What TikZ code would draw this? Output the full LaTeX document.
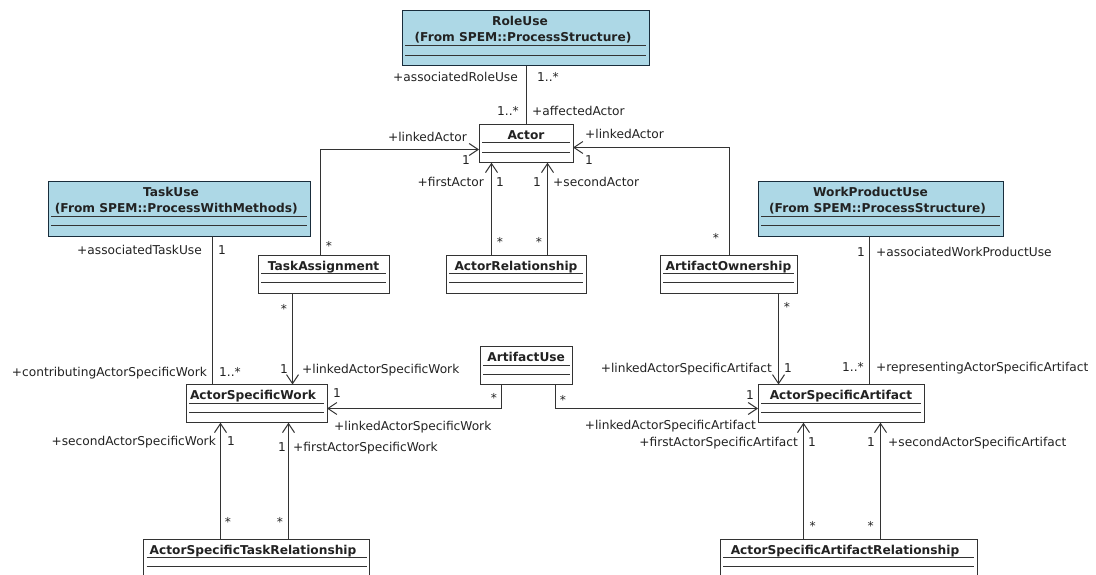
\documentclass[tikz,border=0pt]{standalone}
\usepackage{fontspec}
\setmainfont{DejaVu Sans}
\usetikzlibrary{arrows.meta}
\definecolor{umlblue}{RGB}{173,216,230}
\definecolor{ink}{RGB}{34,34,34}
\definecolor{edgec}{RGB}{51,51,51}
\definecolor{bluebd}{RGB}{25,45,60}
\tikzset{
 whitebox/.style={draw=edgec, fill=white, line width=1pt, inner sep=0pt, outer sep=0pt},
 bluebox/.style={draw=bluebd, fill=umlblue, line width=1pt, inner sep=0pt, outer sep=0pt},
 divider/.style={draw=edgec, line width=0.9pt},
 ttl/.style={font=\bfseries, text=ink, inner sep=0pt, anchor=base},
 lbl/.style={text=ink, inner sep=0pt},
 lr/.style={lbl, anchor=base east},
 ll/.style={lbl, anchor=base west},
 lc/.style={lbl, anchor=base},
 assoc/.style={draw=edgec, line width=1pt},
 nav/.style={assoc, -{Straight Barb[length=9pt,width=12pt]}},
}
\newcommand\umlbox[8]{%
 \node[#1, minimum width=#5pt, minimum height=#6pt, anchor=north west] (#2) at (#3,#4) {};
 \draw[divider] ([xshift=3pt,yshift=-#7pt]#2.north west) -- ([xshift=-3pt,yshift=-#7pt]#2.north east);
 \draw[divider] ([xshift=3pt,yshift=-#8pt]#2.north west) -- ([xshift=-3pt,yshift=-#8pt]#2.north east);
}
\begin{document}
\begin{tikzpicture}[x=1pt,y=-1pt]
\fontsize{12.2}{14.6}\selectfont
\useasboundingbox (0,0) rectangle (1096,575);
\clip (0,0) rectangle (1096,575);
\fill[white] (0,0) rectangle (1096,575);

% classes
\umlbox{bluebox}{roleuse}{402}{11}{247}{54.7}{34.5}{44}
\node[ttl] (roleuse-t1) at (520,25.3) {RoleUse};
\node[ttl] (roleuse-t2) at (523,41.7) {(From SPEM::ProcessStructure)};

\umlbox{bluebox}{taskuse}{48}{181.7}{262}{54.3}{35}{44}
\node[ttl] (taskuse-t1) at (171,196.2) {TaskUse};
\node[ttl] (taskuse-t2) at (176.3,212.2) {(From SPEM::ProcessWithMethods)};

\umlbox{bluebox}{wpu}{758}{181.7}{245}{54.3}{35}{44}
\node[ttl] (wpu-t1) at (870.5,196.2) {WorkProductUse};
\node[ttl] (wpu-t2) at (877.5,212.2) {(From SPEM::ProcessStructure)};

\umlbox{whitebox}{actor}{479}{124.7}{94}{38}{18}{27.6}
\node[ttl] (actor-t) at (526,139.7) {Actor};

\umlbox{whitebox}{ta}{258}{255}{131.3}{38.3}{18.3}{27.7}
\node[ttl] (ta-t) at (323.6,270) {TaskAssignment};

\umlbox{whitebox}{ar}{446}{255}{140}{38.3}{18.3}{27.7}
\node[ttl] (ar-t) at (516,270) {ActorRelationship};

\umlbox{whitebox}{ao}{660}{255}{137}{38.3}{18.3}{27.7}
\node[ttl] (ao-t) at (728.5,270) {ArtifactOwnership};

\umlbox{whitebox}{au}{480}{346.7}{92.5}{37.8}{18.3}{27.6}
\node[ttl] (au-t) at (526.2,361.5) {ArtifactUse};

\umlbox{whitebox}{asw}{186}{384.5}{141}{38.2}{18.8}{27.5}
\node[ttl] (asw-t) at (253,399.5) {ActorSpecificWork};

\umlbox{whitebox}{asa}{758}{384.5}{166}{38.2}{18.8}{27.5}
\node[ttl] (asa-t) at (841,399.5) {ActorSpecificArtifact};

\umlbox{whitebox}{astr}{143.5}{539}{226}{40}{18.3}{27.7}
\node[ttl] (astr-t) at (253,554) {ActorSpecificTaskRelationship};

\umlbox{whitebox}{asar}{720}{539}{257}{40}{18.3}{27.7}
\node[ttl] (asar-t) at (845,554) {ActorSpecificArtifactRelationship};

% connectors
\draw[assoc] ([xshift=0.5pt]actor.north) -- ([xshift=0.5pt]actor.north |- roleuse.south);
\draw[nav] ([xshift=-3.15pt]ta.north) |- ([yshift=-5.8pt]actor.west);
\draw[nav] ([xshift=1pt]ao.north) |- ([yshift=-3.8pt]actor.east);
\draw[nav] ([xshift=-24.5pt]ar.north) -- ([xshift=-24.5pt]ar.north |- actor.south);
\draw[nav] ([xshift=31.5pt]ar.north) -- ([xshift=31.5pt]ar.north |- actor.south);
\draw[assoc] ([xshift=33.5pt]taskuse.south) -- ([xshift=33.5pt]taskuse.south |- asw.north);
\draw[nav] ([xshift=-31.15pt]ta.south) -- ([xshift=-31.15pt]ta.south |- asw.north);
\draw[nav] ([xshift=50pt]ao.south) -- ([xshift=50pt]ao.south |- asa.north);
\draw[assoc] ([xshift=-11pt]wpu.south) -- ([xshift=-11pt]wpu.south |- asa.north);
\draw[nav] ([xshift=-24.75pt]au.south) |- ([yshift=-4.9pt]asw.east);
\draw[nav] ([xshift=29.25pt]au.south) |- ([yshift=-4.9pt]asa.west);
\draw[nav] ([xshift=-36pt]astr.north) -- ([xshift=-36pt]astr.north |- asw.south);
\draw[nav] ([xshift=32pt]astr.north) -- ([xshift=32pt]astr.north |- asw.south);
\draw[nav] ([xshift=-45pt]asar.north) -- ([xshift=-45pt]asar.north |- asa.south);
\draw[nav] ([xshift=32pt]asar.north) -- ([xshift=32pt]asar.north |- asa.south);

% labels
\node[lr] (l1) at (518,81.5) {+associatedRoleUse};
\node[ll] (l2) at (537,81.5) {1..*};
\node[lr] (l3) at (519,115.5) {1..*};
\node[ll] (l4) at (532,115.5) {+affectedActor};
\node[lr] (l5) at (467,141.5) {+linkedActor};
\node[lr] (l6) at (470,164.5) {1};
\node[ll] (l7) at (585,138.5) {+linkedActor};
\node[ll] (l8) at (585,164.5) {1};
\node[lr] (l9) at (484,186.5) {+firstActor};
\node[ll] (l10) at (496,186.5) {1};
\node[lr] (l11) at (541,186.5) {1};
\node[ll] (l12) at (553,186.5) {+secondActor};
\node[lc] (l13) at (500,247) {*};
\node[lc] (l14) at (539,247) {*};
\node[lc] (l15) at (329,251) {*};
\node[lc] (l16) at (716,243) {*};
\node[lr] (l17) at (202,254.5) {+associatedTaskUse};
\node[ll] (l18) at (218,254.5) {1};
\node[lr] (l19) at (865,256.2) {1};
\node[ll] (l20) at (876,256.2) {+associatedWorkProductUse};
\node[lc] (l21) at (284,313) {*};
\node[lc] (l22) at (787,311) {*};
\node[lr] (l23) at (207,376.5) {+contributingActorSpecificWork};
\node[ll] (l24) at (219,376.5) {1..*};
\node[lr] (l25) at (288,373.5) {1};
\node[ll] (l26) at (302,373.5) {+linkedActorSpecificWork};
\node[lr] (l27) at (772,372.5) {+linkedActorSpecificArtifact};
\node[ll] (l28) at (784,372.5) {1};
\node[lr] (l29) at (864,371.5) {1..*};
\node[ll] (l30) at (876,371.5) {+representingActorSpecificArtifact};
\node[ll] (l31) at (333,397.5) {1};
\node[lc] (l32) at (494,402) {*};
\node[ll] (l33) at (334,430.5) {+linkedActorSpecificWork};
\node[lc] (l34) at (563,404) {*};
\node[lr] (l35) at (754,399.5) {1};
\node[lr] (l36) at (756,429.5) {+linkedActorSpecificArtifact};
\node[lr] (l37) at (216,445.5) {+secondActorSpecificWork};
\node[ll] (l38) at (227,445.5) {1};
\node[lr] (l39) at (286,451.5) {1};
\node[ll] (l40) at (293,451.5) {+firstActorSpecificWork};
\node[lc] (l41) at (228,526) {*};
\node[lc] (l42) at (280,526) {*};
\node[lr] (l43) at (798,446.5) {+firstActorSpecificArtifact};
\node[ll] (l44) at (808,446.5) {1};
\node[lr] (l45) at (875,446.5) {1};
\node[ll] (l46) at (888,446.5) {+secondActorSpecificArtifact};
\node[lc] (l47) at (812.7,530) {*};
\node[lc] (l48) at (870.7,530) {*};
\end{tikzpicture}
\end{document}
